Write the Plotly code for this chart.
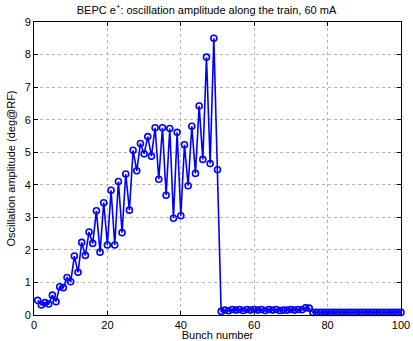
import plotly.graph_objects as go

bunch = list(range(1, 101))
amp_first = [0.45, 0.31, 0.38, 0.34, 0.61, 0.41, 0.87, 0.84, 1.15, 1.02,
             1.81, 1.31, 2.23, 1.83, 2.55, 2.20, 3.20, 1.93, 3.45, 2.15,
             3.83, 2.15, 4.10, 2.53, 4.33, 3.22, 5.06, 4.43, 5.27, 4.95,
             5.48, 4.88, 5.75, 4.17, 5.75, 3.68, 5.73, 2.97, 5.61, 3.05,
             5.23, 3.97, 5.80, 4.35, 6.42, 4.78, 7.92, 4.65, 8.50, 4.46]
amp_tail = [0.11, 0.15, 0.13, 0.17, 0.15, 0.17, 0.14, 0.17, 0.15, 0.17,
            0.15, 0.17, 0.14, 0.17, 0.15, 0.17, 0.14, 0.15, 0.15, 0.17,
            0.15, 0.17, 0.16, 0.22, 0.21,
            0.08, 0.08, 0.08, 0.08, 0.08, 0.08, 0.08, 0.08, 0.08, 0.08,
            0.08, 0.08, 0.08, 0.08, 0.08, 0.08, 0.08, 0.08, 0.08, 0.08,
            0.08, 0.08, 0.08, 0.08, 0.08]
amplitude = amp_first + amp_tail

x_ticks = [0, 20, 40, 60, 80, 100]
y_ticks = [0, 1, 2, 3, 4, 5, 6, 7, 8, 9]

font = dict(family="Liberation Sans, Arial, sans-serif", size=11, color="black")

fig = go.Figure()
fig.add_trace(go.Scatter(
    x=bunch, y=amplitude, mode="lines+markers",
    line=dict(color="#0000FF", width=1.6),
    marker=dict(symbol="circle-open", size=6, color="#0000FF", line=dict(width=1.6, color="#0000FF")),
    showlegend=False, cliponaxis=False, hoverinfo="skip",
))

axis_common = dict(
    showline=True, linecolor="black", linewidth=1, mirror="ticks",
    ticks="inside", ticklen=4, tickcolor="black",
    showgrid=True, gridcolor="#b4b4b4", griddash="dot", gridwidth=0.8,
    zeroline=False, tickfont=font, automargin=False,
)

fig.update_layout(
    width=413, height=341,
    margin=dict(l=34, r=12, t=22, b=26),
    paper_bgcolor="white", plot_bgcolor="white",
    font=font,
    title=dict(text="BEPC e<sup>+</sup>: oscillation amplitude along the train, 60 mA",
               x=0.5, xanchor="center", y=0.97, yanchor="middle",
               font=dict(family="Liberation Sans, Arial, sans-serif", size=11, color="black")),
    xaxis=dict(range=[0, 100], tickvals=x_ticks, ticktext=[str(v) for v in x_ticks],
               title=dict(text="Bunch number", standoff=0, font=font), **axis_common),
    yaxis=dict(range=[0, 9], tickvals=y_ticks, ticktext=[str(v) for v in y_ticks],
               title=dict(text="Oscillation amplitude (deg@RF)", standoff=6, font=font), **axis_common),
)

fig.write_html("out.html", config={"displayModeBar": False},
               post_script="document.body.style.margin='0';")
